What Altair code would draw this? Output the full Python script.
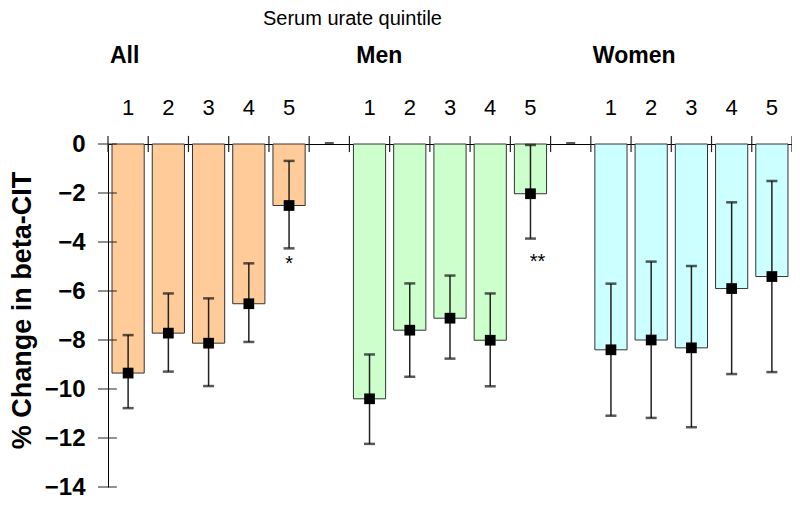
import altair as alt
import pandas as pd

# ---- data ----
groups = ["All", "Men", "Women"]
quintiles = [1, 2, 3, 4, 5]
colors = ["#FFCC99", "#CCFFCC", "#CCFFFF"]

all_mean = [-9.35, -7.72, -8.13, -6.52, -2.51]
all_hi = [-7.80, -6.10, -6.30, -4.87, -0.69]
all_lo = [-10.78, -9.29, -9.88, -8.08, -4.26]

men_mean = [-10.40, -7.60, -7.11, -8.01, -2.03]
men_hi = [-8.59, -5.69, -5.37, -6.10, -0.04]
men_lo = [-12.24, -9.50, -8.76, -9.89, -3.86]

women_mean = [-8.40, -8.00, -8.32, -5.90, -5.41]
women_hi = [-5.70, -4.80, -4.98, -2.38, -1.51]
women_lo = [-11.09, -11.18, -11.56, -9.39, -9.31]

y_ticks = [0, -2, -4, -6, -8, -10, -12, -14]
title_text = "Serum urate quintile"
y_title = "% Change in beta-CIT"

means = [all_mean, men_mean, women_mean]
his = [all_hi, men_hi, women_hi]
los = [all_lo, men_lo, women_lo]

rows = []
for gi, g in enumerate(groups):
    for qi, q in enumerate(quintiles):
        slot = gi * 6 + qi
        rows.append(dict(group=g, quintile=str(q), slot=slot,
                         x0=slot + 0.1, x1=slot + 0.9, xc=slot + 0.5,
                         mean=means[gi][qi], hi=his[gi][qi], lo=los[gi][qi], zero=0))
df = pd.DataFrame(rows)

gap_df = pd.DataFrame({"xc": [5.5, 11.5], "v": [0, 0]})
bound_df = pd.DataFrame({"b": list(range(0, 18)), "t0": 0.33, "t1": -0.33})
ytick_df = pd.DataFrame({"v": y_ticks, "a": -0.25, "b": 0.22})
group_df = pd.DataFrame({"group": groups, "xl": [0.05, 6.17, 12.05]})
star1_df = pd.DataFrame({"xc": [df.loc[4, "xc"]], "lo": [df.loc[4, "lo"]], "t": ["*"]})
star2_df = pd.DataFrame({"xc": [df.loc[9, "xc"]], "lo": [df.loc[9, "lo"]], "t": ["**"]})

FONT = "Liberation Sans"
xs = alt.Scale(domain=[0, 17], nice=False, zero=False)
ys = alt.Scale(domain=[-14, 0], nice=False, zero=False)

x_axis = alt.Axis(orient="top", labels=False, ticks=False, domain=True,
                  domainColor="black", domainWidth=1, grid=False, title=None)
y_axis = alt.Axis(orient="left", values=y_ticks, format="d", grid=False,
                  ticks=False, tickSize=0, domain=True, domainColor="black",
                  domainWidth=1, labelFont=FONT, labelFontSize=24,
                  labelFontWeight="bold", labelColor="black", labelPadding=23,
                  labelAlign="right", labelBaseline="middle",
                  title=y_title, titleFont=FONT, titleFontSize=27,
                  titleFontWeight="bold", titleColor="black", titleAngle=270,
                  titleAlign="center", titleBaseline="alphabetic",
                  titleX=-78, titleY=166)


def X(field):
    return alt.X(field, scale=xs, axis=x_axis)


def Y(field):
    return alt.Y(field, scale=ys, axis=y_axis)


bars = alt.Chart(df).mark_bar(stroke="#333333", strokeWidth=1).encode(
    x=X("x0:Q"), x2="x1:Q",
    y=Y("mean:Q"), y2="zero:Q",
    color=alt.Color("group:N", scale=alt.Scale(domain=groups, range=colors), legend=None),
)
whisk = alt.Chart(df).mark_rule(color="#222222", strokeWidth=1.5).encode(
    x=X("xc:Q"), y=Y("lo:Q"), y2="hi:Q",
)
cap_lo = alt.Chart(df).mark_tick(color="#111111", orient="horizontal", size=11, thickness=2.5).encode(
    x=X("xc:Q"), y=Y("lo:Q"),
)
cap_hi = alt.Chart(df).mark_tick(color="#111111", orient="horizontal", size=11, thickness=2.5).encode(
    x=X("xc:Q"), y=Y("hi:Q"),
)
markers = alt.Chart(df).mark_square(size=115, color="black", opacity=1, filled=True).encode(
    x=X("xc:Q"), y=Y("mean:Q"),
)
gaps = alt.Chart(gap_df).mark_tick(color="#111111", orient="horizontal", size=9, thickness=2, yOffset=-1).encode(
    x=X("xc:Q"), y=Y("v:Q"),
)
bticks = alt.Chart(bound_df).mark_rule(color="#222222", strokeWidth=1.2).encode(
    x=X("b:Q"), y=Y("t0:Q"), y2="t1:Q",
)
yticks = alt.Chart(ytick_df).mark_rule(color="#222222", strokeWidth=1).encode(
    x=X("a:Q"), x2="b:Q", y=Y("v:Q"),
)
qlabels = alt.Chart(df).mark_text(font=FONT, fontSize=22, color="black",
                                  align="center", baseline="alphabetic").encode(
    x=X("xc:Q"), y=alt.value(-29), text="quintile:N",
)
glabels = alt.Chart(group_df).mark_text(font=FONT, fontSize=23, fontWeight="bold", color="black",
                                        align="left", baseline="alphabetic").encode(
    x=X("xl:Q"), y=alt.value(-81), text="group:N",
)
title = alt.Chart(pd.DataFrame({"t": [title_text]})).mark_text(
    font=FONT, fontSize=20, color="black", align="left", baseline="alphabetic").encode(
    x=alt.value(155), y=alt.value(-119), text="t:N")
star1 = alt.Chart(star1_df).mark_text(font=FONT, fontSize=20, color="black",
                                      align="center", baseline="middle", dy=16).encode(
    x=X("xc:Q"), y=Y("lo:Q"), text="t:N",
)
star2 = alt.Chart(star2_df).mark_text(font=FONT, fontSize=20, color="black",
                                      align="center", baseline="middle", dy=23, dx=7).encode(
    x=X("xc:Q"), y=Y("lo:Q"), text="t:N",
)

chart = alt.layer(
    bars, whisk, cap_lo, cap_hi, markers, gaps, bticks, yticks,
    qlabels, glabels, title, star1, star2,
).properties(
    width=684, height=343,
    autosize=alt.AutoSizeParams(type="none"),
    padding={"left": 100, "top": 136, "right": 0, "bottom": 12},
    background="white",
).configure_view(stroke=None)

chart.save("out.html", embed_options={"renderer": "svg", "actions": False})
